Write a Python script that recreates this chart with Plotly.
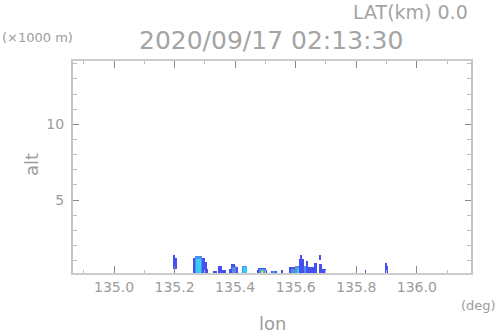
import plotly.graph_objects as go

# Cross-section segments (lon from, lon to, alt bottom km, alt top km, reflectivity level dBZ)
seg_lon0 = [135.194, 135.198,
            135.261, 135.268, 135.272, 135.291, 135.300, 135.307,
            135.327, 135.343, 135.357,
            135.380, 135.387, 135.390, 135.400,
            135.423, 135.426,
            135.473, 135.477, 135.480, 135.484, 135.487,
            135.518, 135.523,
            135.550,
            135.578, 135.585, 135.601, 135.604, 135.612, 135.616, 135.635,
            135.641, 135.660, 135.679, 135.677, 135.686,
            135.829,
            135.894, 135.897]
seg_lon1 = [135.207, 135.203,
            135.268, 135.291, 135.288, 135.300, 135.307, 135.312,
            135.340, 135.355, 135.370,
            135.387, 135.400, 135.398, 135.410,
            135.440, 135.438,
            135.506, 135.502, 135.499, 135.496, 135.493,
            135.537, 135.532,
            135.558,
            135.601, 135.598, 135.641, 135.625, 135.628, 135.622, 135.640,
            135.671, 135.671, 135.683, 135.686, 135.701,
            135.832,
            135.904, 135.901]
seg_bottom = [0.44, 1.0,
              0.0, 0.0, 0.0, 0.0, 0.0, 0.0,
              0.0, 0.0, 0.0,
              0.0, 0.0, 0.0, 0.0,
              0.0, 0.0,
              0.0, 0.0, 0.0, 0.0, 0.0,
              0.0, 0.0,
              0.0,
              0.0, 0.0, 0.0, 0.0, 0.0, 1.0, 0.0,
              0.0, 0.0, 1.05, 0.0, 0.0,
              0.0,
              0.0, 0.6]
seg_top = [1.2, 1.37,
           1.2, 1.27, 1.1, 1.2, 0.9, 0.45,
           0.3, 0.62, 0.38,
           0.45, 0.78, 0.55, 0.6,
           0.66, 0.6,
           0.4, 0.5, 0.42, 0.35, 0.26,
           0.32, 0.26,
           0.4,
           0.58, 0.45, 0.65, 0.5, 1.1, 1.37, 0.95,
           0.6, 0.85, 1.4, 0.75, 0.42,
           0.38,
           0.62, 0.82]
seg_level = [15, 15,
             15, 20, 25, 15, 15, 15,
             15, 15, 15,
             15, 15, 20, 15,
             20, 25,
             15, 15, 20, 30, 35,
             15, 20,
             15,
             15, 20, 20, 25, 15, 15, 15,
             15, 15, 15, 15, 15,
             15,
             15, 15]

x_tick_vals = [135.0, 135.2, 135.4, 135.6, 135.8, 136.0]
y_tick_vals = [5, 10]

title_text = "2020/09/17 02:13:30"
lat_text = "LAT(km) 0.0"
unit_y_text = "(×1000 m)"
unit_x_text = "(deg)"

level_colors = {15: "#4650f2", 20: "#4a8ff2", 25: "#36cff0", 30: "#44d488", 35: "#e8e040"}

x_range = [134.8645, 136.179]
y_range = [0.18, 14.18]

centers = [(a + b) / 2 for a, b in zip(seg_lon0, seg_lon1)]
widths = [b - a for a, b in zip(seg_lon0, seg_lon1)]
bases = [max(b, y_range[0]) for b in seg_bottom]
heights = [t - b for t, b in zip(seg_top, bases)]
colors = [level_colors[v] for v in seg_level]

fig = go.Figure(go.Bar(
    x=centers, y=heights, base=bases, width=widths,
    marker=dict(color=colors, line=dict(width=0)),
    hoverinfo="skip", showlegend=False,
))

font_family = "DejaVu Sans"
gray = "#8a8a8a"
txt = "#9c9c9c"

fig.update_layout(
    width=498, height=336,
    margin=dict(l=73, r=27, t=61, b=63),
    paper_bgcolor="white", plot_bgcolor="white",
    barmode="overlay", bargap=0,
    font=dict(family=font_family, color=gray),
    xaxis=dict(
        range=x_range, tickvals=x_tick_vals, ticktext=[f"{v:.1f}" for v in x_tick_vals],
        ticks="inside", ticklen=7, tickcolor="#888888", tickwidth=1,
        showline=True, linecolor="#cccccc", linewidth=2, mirror="allticks",
        showgrid=False, zeroline=False, automargin=False,
        tickfont=dict(size=14, color=txt),
        minor=dict(dtick=0.1, tick0=135.0, ticks="inside", ticklen=3, tickcolor="#bbbbbb", showgrid=False),
    ),
    yaxis=dict(
        range=y_range, tickvals=y_tick_vals,
        ticks="inside", ticklen=6, tickcolor="#888888", tickwidth=1,
        showline=True, linecolor="#c4c4c4", linewidth=2, mirror="allticks",
        showgrid=False, zeroline=False, automargin=False,
        tickfont=dict(size=14, color=txt),
        ticklabelstandoff=4,
        minor=dict(dtick=1, tick0=0, ticks="inside", ticklen=4, tickcolor="#bbbbbb", showgrid=False),
    ),
    annotations=[
        dict(text=title_text, x=0.4975, y=1.099, xref="paper", yref="paper",
             xanchor="center", yanchor="middle", showarrow=False,
             font=dict(size=25, color="#a4a4a4", family=font_family)),
        dict(text=lat_text, x=0.9975, y=1.231, xref="paper", yref="paper",
             xanchor="right", yanchor="middle", showarrow=False,
             font=dict(size=19, color="#a4a4a4", family=font_family)),
        dict(text=unit_y_text, x=-0.1834, y=1.113, xref="paper", yref="paper",
             xanchor="left", yanchor="middle", showarrow=False,
             font=dict(size=13, color=txt, family=font_family)),
        dict(text=unit_x_text, x=1.0678, y=-0.151, xref="paper", yref="paper",
             xanchor="right", yanchor="middle", showarrow=False,
             font=dict(size=13, color=txt, family=font_family)),
        dict(text="lon", x=0.5, y=-0.297, xref="paper", yref="paper",
             xanchor="center", yanchor="bottom", showarrow=False,
             font=dict(size=18, color=txt, family=font_family)),
        dict(text="alt", x=-0.1055, y=0.509, xref="paper", yref="paper",
             xanchor="center", yanchor="middle", showarrow=False, textangle=-90,
             font=dict(size=18, color=txt, family=font_family)),
    ],
)

fig.write_html("out.html", config={"displayModeBar": False},
               post_script="document.body.style.margin='0px';document.body.style.overflow='hidden';")
